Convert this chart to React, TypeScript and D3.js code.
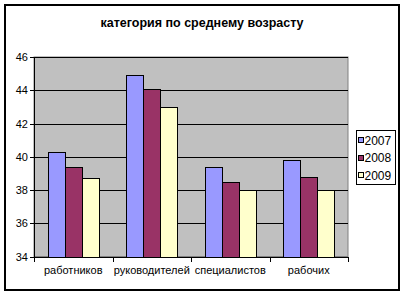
import { useEffect, useRef } from 'react'
import * as d3 from 'd3'

const categories = ['работников', 'руководителей', 'специалистов', 'рабочих']
const years = ['2007', '2008', '2009']
const values2007 = [40.3, 44.9, 39.4, 39.8]
const values2008 = [39.4, 44.1, 38.5, 38.8]
const values2009 = [38.7, 43.0, 38.0, 38.0]
const yTicks = [34, 36, 38, 40, 42, 44, 46]
const colors = ['#9999ff', '#993366', '#ffffcc']

const App = () => {
  const svgRef = useRef<SVGSVGElement | null>(null)

  useEffect(() => {
    if (!svgRef.current) return
    const svg = d3.select(svgRef.current)
    svg.selectAll('*').remove()

    const font = 'Arial, "Liberation Sans", sans-serif'
    const plot = { left: 34, right: 348, top: 57, bottom: 256.5 }

    const series = [values2007, values2008, values2009]

    // outer frame
    svg
      .append('rect')
      .attr('x', 5)
      .attr('y', 5)
      .attr('width', 394)
      .attr('height', 285)
      .attr('fill', 'white')
      .attr('stroke', 'black')
      .attr('stroke-width', 2)

    // title
    svg
      .append('text')
      .attr('x', 202)
      .attr('y', 27)
      .attr('text-anchor', 'middle')
      .attr('font-family', font)
      .attr('font-weight', 'bold')
      .attr('font-size', '12.5px')
      .text('категория по среднему возрасту')

    const x0 = d3
      .scaleBand()
      .domain(categories)
      .range([plot.left, plot.right])
      .paddingInner(0)
    const x1 = d3
      .scaleBand()
      .domain(years)
      .range([0, x0.bandwidth()])
      .paddingOuter(0.8)
      .paddingInner(0)
    const y = d3
      .scaleLinear()
      .domain([34, 46])
      .range([plot.bottom, plot.top])

    // plot background
    svg
      .append('rect')
      .attr('x', plot.left)
      .attr('y', plot.top)
      .attr('width', plot.right - plot.left)
      .attr('height', plot.bottom - plot.top)
      .attr('fill', '#c0c0c0')
      .attr('stroke', '#808080')
      .attr('stroke-width', 1)

    // gridlines
    svg
      .append('g')
      .selectAll('line')
      .data(yTicks.slice(1))
      .join('line')
      .attr('x1', plot.left)
      .attr('x2', plot.right)
      .attr('y1', (d) => Math.round(y(d)) + 0.5)
      .attr('y2', (d) => Math.round(y(d)) + 0.5)
      .attr('stroke', 'black')
      .attr('stroke-width', 1)

    // bars
    series.forEach((vals, si) => {
      svg
        .append('g')
        .selectAll('rect')
        .data(vals)
        .join('rect')
        .attr('x', (_d, i) => Math.round(x0(categories[i])! + x1(years[si])!) + 0.5)
        .attr('y', (d) => Math.round(y(d)) + 0.5)
        .attr('width', Math.round(x1.bandwidth()))
        .attr('height', (d) => Math.round(y(34)) - Math.round(y(d)))
        .attr('fill', colors[si])
        .attr('stroke', 'black')
        .attr('stroke-width', 1)
    })

    // y axis
    const yAxis = svg.append('g').attr('font-family', font)
    yAxis
      .append('line')
      .attr('x1', plot.left + 0.5)
      .attr('x2', plot.left + 0.5)
      .attr('y1', plot.top)
      .attr('y2', Math.round(plot.bottom) + 0.5)
      .attr('stroke', 'black')
    yAxis
      .selectAll('line.tick')
      .data(yTicks)
      .join('line')
      .attr('class', 'tick')
      .attr('x1', plot.left - 4)
      .attr('x2', plot.left)
      .attr('y1', (d) => Math.round(y(d)) + 0.5)
      .attr('y2', (d) => Math.round(y(d)) + 0.5)
      .attr('stroke', 'black')
    yAxis
      .selectAll('text')
      .data(yTicks)
      .join('text')
      .attr('x', plot.left - 6)
      .attr('y', (d) => y(d) + 4)
      .attr('text-anchor', 'end')
      .attr('font-size', '11px')
      .text((d) => d)

    // x axis
    const xAxis = svg.append('g').attr('font-family', font)
    xAxis
      .append('line')
      .attr('x1', plot.left)
      .attr('x2', plot.right)
      .attr('y1', Math.round(plot.bottom) + 0.5)
      .attr('y2', Math.round(plot.bottom) + 0.5)
      .attr('stroke', 'black')
    xAxis
      .selectAll('line.tick')
      .data(categories.map((c) => x0(c)!).concat([plot.right]))
      .join('line')
      .attr('class', 'tick')
      .attr('x1', (d) => Math.round(d) + 0.5)
      .attr('x2', (d) => Math.round(d) + 0.5)
      .attr('y1', Math.round(plot.bottom))
      .attr('y2', Math.round(plot.bottom) + 5)
      .attr('stroke', 'black')
    xAxis
      .selectAll('text')
      .data(categories)
      .join('text')
      .attr('x', (d) => x0(d)! + x0.bandwidth() / 2)
      .attr('y', 274)
      .attr('text-anchor', 'middle')
      .attr('font-size', '11px')
      .text((d) => d)

    // legend
    const legend = svg.append('g').attr('font-family', font)
    legend
      .append('rect')
      .attr('x', 356.5)
      .attr('y', 130.5)
      .attr('width', 39)
      .attr('height', 54)
      .attr('fill', 'white')
      .attr('stroke', 'black')
    years.forEach((yr, i) => {
      const cy = 140 + i * 17.5
      legend
        .append('rect')
        .attr('x', 358.5)
        .attr('y', Math.round(cy - 3) + 0.5)
        .attr('width', 5)
        .attr('height', 5)
        .attr('fill', colors[i])
        .attr('stroke', 'black')
      legend
        .append('text')
        .attr('x', 364.5)
        .attr('y', cy + 4.5)
        .attr('font-size', '12px')
        .text(yr)
    })
  }, [])

  return (
    <svg
      ref={svgRef}
      width={404}
      height={294}
      style={{ position: 'absolute', left: 0, top: 0 }}
    ></svg>
  )
}

export default App
